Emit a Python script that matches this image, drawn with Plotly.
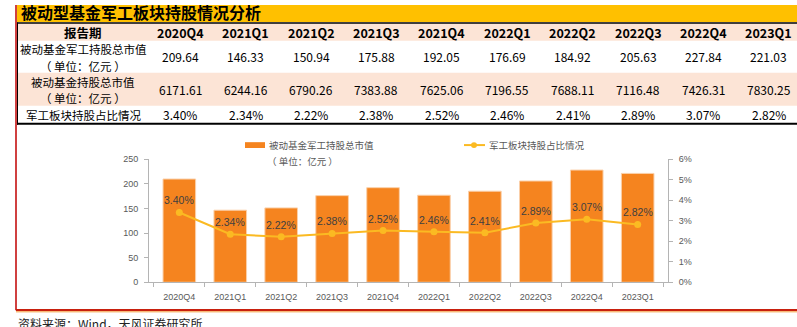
import plotly.graph_objects as go

W, H = 797, 327

quarters = ["2020Q4", "2021Q1", "2021Q2", "2021Q3", "2021Q4",
            "2022Q1", "2022Q2", "2022Q3", "2022Q4", "2023Q1"]
mil_value = [209.64, 146.33, 150.94, 175.88, 192.05,
             176.69, 184.92, 205.63, 227.84, 221.03]
fund_value = [6171.61, 6244.16, 6790.26, 7383.88, 7625.06,
              7196.55, 7688.11, 7116.48, 7426.31, 7830.25]
mil_share = [3.40, 2.34, 2.22, 2.38, 2.52, 2.46, 2.41, 2.89, 3.07, 2.82]

left_ticks = [0, 50, 100, 150, 200, 250]
right_ticks = [0, 1, 2, 3, 4, 5, 6]
right_tick_labels = [f"{t}%" for t in right_ticks]

title = "被动型基金军工板块持股情况分析"
bar_name = "被动基金军工持股总市值"
fund_name = "被动基金持股总市值"
line_name = "军工板块持股占比情况"
unit = "（ 单位：亿元 ）"
header = "报告期"
source = "资料来源：Wind，天风证券研究所"

CJK = "Noto Sans CJK SC"
ARIAL = "Liberation Sans"
BAR_C = "#F5841F"
LINE_C = "#FBBA22"
GREY = "#595959"
PEACH = "#FCE4D6"


def px(x):
    return x / W


def py(y):
    return 1 - y / H


fig = go.Figure()

fig.add_trace(go.Bar(
    x=quarters, y=mil_value, name=bar_name, width=0.64,
    marker=dict(color=BAR_C, line=dict(color="#FAD0AA", width=1)),
    showlegend=False, hoverinfo="skip",
))
fig.add_trace(go.Scatter(
    x=quarters, y=mil_share, name=line_name, yaxis="y2",
    mode="lines+markers",
    line=dict(color=LINE_C, width=2),
    marker=dict(color=LINE_C, size=7),
    showlegend=False, hoverinfo="skip",
))

shapes = []
annotations = []

# share labels above the line points
for q, s in zip(quarters, mil_share):
    annotations.append(dict(
        x=q, y=s, xref="x", yref="y2", text=f"{s:.2f}%", showarrow=False,
        yshift=12, font=dict(family=ARIAL, size=10.5, color="#404040"),
    ))


def rect(x0, y0, x1, y1, color):
    shapes.append(dict(type="rect", xref="paper", yref="paper",
                       x0=px(x0), x1=px(x1), y0=py(y1), y1=py(y0),
                       fillcolor=color, line=dict(width=0), layer="below"))


def hline(x0, x1, y, color, width):
    shapes.append(dict(type="line", xref="paper", yref="paper",
                       x0=px(x0), x1=px(x1), y0=py(y), y1=py(y),
                       line=dict(color=color, width=width)))


def vline(x, y0, y1, color, width):
    shapes.append(dict(type="line", xref="paper", yref="paper",
                       x0=px(x), x1=px(x), y0=py(y0), y1=py(y1),
                       line=dict(color=color, width=width)))


def text(x, y, s, size, color="#000000", family=CJK, xanchor="center",
         yanchor="middle"):
    annotations.append(dict(x=px(x), y=py(y), xref="paper", yref="paper",
                            text=s, showarrow=False, xanchor=xanchor,
                            yanchor=yanchor, borderpad=0,
                            font=dict(family=family, size=size, color=color)))


# title band
rect(17, 0, 797, 17.5, "#FFC000")
text(20, 7.5, f"<b>{title}</b>", 16, xanchor="left")

# table backgrounds and rules
rect(17, 19, 797, 37, PEACH)
rect(17, 70, 797, 104, PEACH)
hline(17, 797, 18.5, "#000000", 1.5)
hline(17, 797, 122.5, "#000000", 2)
vline(17.5, 18, 123.5, "#000000", 1)

# frame lines
vline(16, 0, 315, "#C00000", 1.5)
hline(16, 797, 314.5, "#C8200E", 2)
hline(16, 797, 316.5, "#F39A3A", 1)

# table text
col0 = 83
cols = [180.2 + 65.4 * i for i in range(len(quarters))]
text(col0, 28.5, f"<b>{header}</b>", 12.5)
for c, q in zip(cols, quarters):
    text(c, 28.5, f"<b>{q}</b>", 12.5)

text(col0, 45.5, bar_name, 11.5)
text(col0, 62.5, unit, 11.5)
text(col0, 79, fund_name, 11.5)
text(col0, 96, unit, 11.5)
text(col0, 113, line_name, 11.5)
for c, v in zip(cols, mil_value):
    text(c, 53.5, f"{v:.2f}", 12)
for c, v in zip(cols, fund_value):
    text(c, 87.5, f"{v:.2f}", 12)
for c, v in zip(cols, mil_share):
    text(c, 113, f"{v:.2f}%", 12)

# legend
rect(245, 141.5, 265, 147.5, BAR_C)
text(268, 144.5, bar_name, 9.5, color=GREY, xanchor="left")
text(266, 161, unit, 9.5, color=GREY, xanchor="left")
hline(464, 485, 144.5, LINE_C, 2)
shapes.append(dict(type="circle", xref="paper", yref="paper",
                   x0=px(471), x1=px(477), y0=py(147.5), y1=py(141.5),
                   fillcolor=LINE_C, line=dict(width=0)))
text(488, 144.5, line_name, 9.5, color=GREY, xanchor="left")

# source note
text(17, 319, source, 12, color="#222222", xanchor="left", yanchor="top")

axis_common = dict(
    showgrid=False, zeroline=False, showline=True, linecolor="#B4B4B4",
    linewidth=1, ticks="outside", ticklen=4, tickcolor="#B4B4B4",
    tickfont=dict(family=ARIAL, size=9, color=GREY),
)

fig.update_layout(
    width=W, height=H, autosize=False,
    margin=dict(l=0, r=0, t=0, b=0),
    paper_bgcolor="white", plot_bgcolor="white",
    xaxis=dict(domain=[px(149), px(668)], anchor="y", tickson="boundaries",
               ticklabelstandoff=6, **axis_common),
    yaxis=dict(domain=[py(286), py(159)], anchor="x", range=[0, 250],
               tickvals=left_ticks, ticklabelstandoff=4, **axis_common),
    yaxis2=dict(overlaying="y", side="right", anchor="x", range=[0, 6],
                tickvals=right_ticks, ticktext=right_tick_labels,
                ticklabelstandoff=4, **axis_common),
    shapes=shapes,
    annotations=annotations,
)

fig.write_html("out.html")
